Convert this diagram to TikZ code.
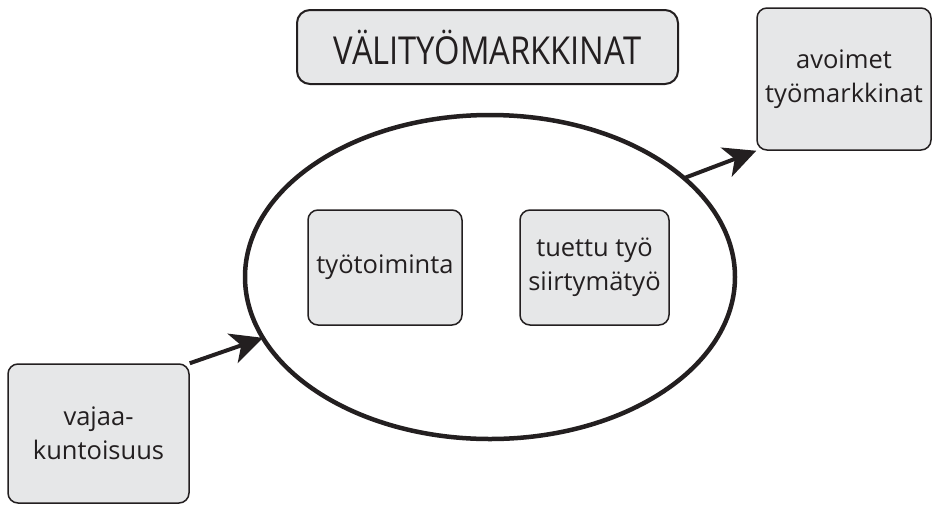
\documentclass[tikz,border=0pt]{standalone}
\usepackage{fontspec}
\setmainfont{Open Sans}
\newfontfamily\headfont[FakeStretch=0.85]{Open Sans}
\usetikzlibrary{shapes.geometric,arrows.meta}
\definecolor{boxfill}{HTML}{E6E7E8}
\definecolor{ink}{HTML}{231F20}

\begin{document}
\begin{tikzpicture}[x=1pt,y=-1pt,
  box/.style={draw=ink, fill=boxfill, line width=1.5pt, rounded corners=10pt,
    inner sep=0pt, align=center, text=ink, font=\fontsize{25.5}{33.5}\selectfont},
  link/.style={draw=ink, line width=4pt,
    -{Stealth[length=32pt,width=31pt,inset=9pt]}}]
\useasboundingbox (0,0) rectangle (932,504);

% heading
\node[box, line width=2pt, rounded corners=13pt, minimum width=381pt,
  minimum height=74pt, font=\headfont\fontsize{38.5}{44}\selectfont]
  (title) at (487.5,47) {VÄLITYÖMARKKINAT};

% the intermediate labour market
\node[draw=ink, line width=4.5pt, ellipse, minimum width=490pt,
  minimum height=324pt, inner sep=0pt, outer sep=0pt] (ell) at (490,277) {};
\node[box, minimum width=154pt, minimum height=115pt] (toiminta) at (385,267.5)
  {työtoiminta};
\node[box, minimum width=149pt, minimum height=115pt] (tuettu) at (594.5,267.5)
  {tuettu työ\\siirtymätyö};

% start and goal
\node[box, minimum width=181pt, minimum height=139pt] (vajaa) at (98.5,433.5)
  {vajaa-\\kuntoisuus};
\node[box, minimum width=174pt, minimum height=142pt] (avoimet) at (844,79)
  {avoimet\\työmarkkinat};

% transitions
\draw[link] (vajaa.north east) -- (ell.195);
\draw[link] (ell.27) -- (avoimet.south west);
\end{tikzpicture}
\end{document}
